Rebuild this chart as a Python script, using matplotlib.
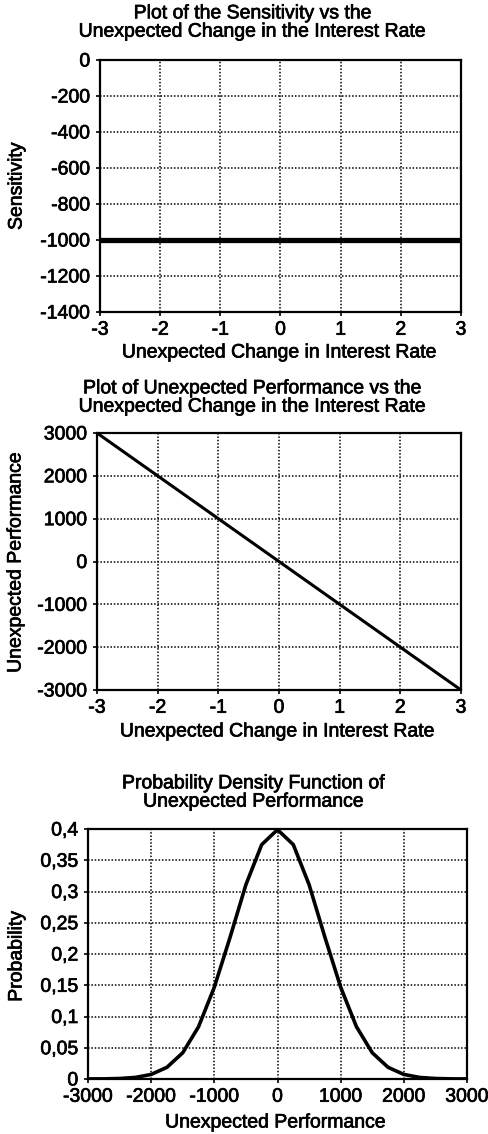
import matplotlib
matplotlib.use("Agg")
import matplotlib.pyplot as plt
import matplotlib.patheffects as pe
from matplotlib.ticker import FuncFormatter

# data
rate_change = [-3, -2, -1, 0, 1, 2, 3]
sensitivity = [-1000, -1000, -1000, -1000, -1000, -1000, -1000]
performance = [3000, 2000, 1000, 0, -1000, -2000, -3000]

perf_x = [-3000, -2750, -2500, -2250, -2000, -1750, -1500, -1250, -1000, -750,
          -500, -250, 0, 250, 500, 750, 1000, 1250, 1500, 1750, 2000, 2250,
          2500, 2750, 3000]
perf_pdf = [0.0001, 0.0002, 0.0008, 0.0025, 0.0073, 0.0187, 0.042, 0.0836,
            0.147, 0.227, 0.311, 0.375, 0.399, 0.375, 0.311, 0.227, 0.147,
            0.0836, 0.042, 0.0187, 0.0073, 0.0025, 0.0008, 0.0002, 0.0001]

sens_ticks = [0, -200, -400, -600, -800, -1000, -1200, -1400]
perf_ticks = [3000, 2000, 1000, 0, -1000, -2000, -3000]
prob_ticks = [0, 0.05, 0.1, 0.15, 0.2, 0.25, 0.3, 0.35, 0.4]
perf_xticks = [-3000, -2000, -1000, 0, 1000, 2000, 3000]

plt.rcParams["font.family"] = ["Liberation Sans", "DejaVu Sans"]
plt.rcParams["font.size"] = 14
plt.rcParams["axes.unicode_minus"] = False

W, H = 489, 1134
fig = plt.figure(figsize=(W / 100, H / 100), dpi=100)

# scanned print looks a little heavier than the plain font
heavy = [pe.withStroke(linewidth=0.5, foreground="black")]


def px_axes(l, t, r, b):
    return fig.add_axes([l / W, 1 - b / H, (r - l) / W, (b - t) / H])


def style(ax):
    for s in ax.spines.values():
        s.set_linewidth(1.6)
        s.set_color("black")
    ax.tick_params(direction="out", length=3, width=1.2, pad=4,
                   labelsize=14, colors="black")
    ax.grid(True, color="black", linestyle=(0, (1, 1.2)), linewidth=1.1)
    ax.set_axisbelow(True)


def ftext(x, y, s, **kw):
    fig.text(x / W, 1 - y / H, s, ha="center", va="center", fontsize=14,
             linespacing=1.1, path_effects=heavy, **kw)


# plot 1
ax1 = px_axes(100, 60, 461, 312)
style(ax1)
ax1.plot(rate_change, sensitivity, color="black", linewidth=3.8)
ax1.set_xlim(-3, 3)
ax1.set_ylim(-1400, 0)
ax1.set_xticks(rate_change)
ax1.set_yticks(sens_ticks)
ftext(253, 23, "Plot of the Sensitivity vs the\nUnexpected Change in the Interest Rate")
ftext(280, 353, "Unexpected Change in Interest Rate")
ftext(17, 186, "Sensitivity", rotation=90)

# plot 2
ax2 = px_axes(97, 433, 461, 690)
style(ax2)
ax2.plot(rate_change, performance, color="black", linewidth=2.2)
ax2.set_xlim(-3, 3)
ax2.set_ylim(-3000, 3000)
ax2.set_xticks(rate_change)
ax2.set_yticks(perf_ticks)
ftext(253, 398, "Plot of Unexpected Performance vs the\nUnexpected Change in the Interest Rate")
ftext(278, 732, "Unexpected Change in Interest Rate")
ftext(16, 562, "Unexpected Performance", rotation=90)

# plot 3
ax3 = px_axes(88, 829, 467, 1079)
style(ax3)
ax3.plot(perf_x, perf_pdf, color="black", linewidth=2.6)
ax3.set_xlim(-3000, 3000)
ax3.set_ylim(0, 0.4)
ax3.set_xticks(perf_xticks)
ax3.set_yticks(prob_ticks)
ax3.yaxis.set_major_formatter(
    FuncFormatter(lambda v, p: ("%g" % round(v, 2)).replace(".", ",")))
ftext(254, 793, "Probability Density Function of\nUnexpected Performance")
ftext(276, 1123, "Unexpected Performance")
ftext(17, 956, "Probability", rotation=90)

for ax in (ax1, ax2, ax3):
    for lbl in ax.get_xticklabels() + ax.get_yticklabels():
        lbl.set_path_effects(heavy)

fig.savefig("out.png", dpi=100)
